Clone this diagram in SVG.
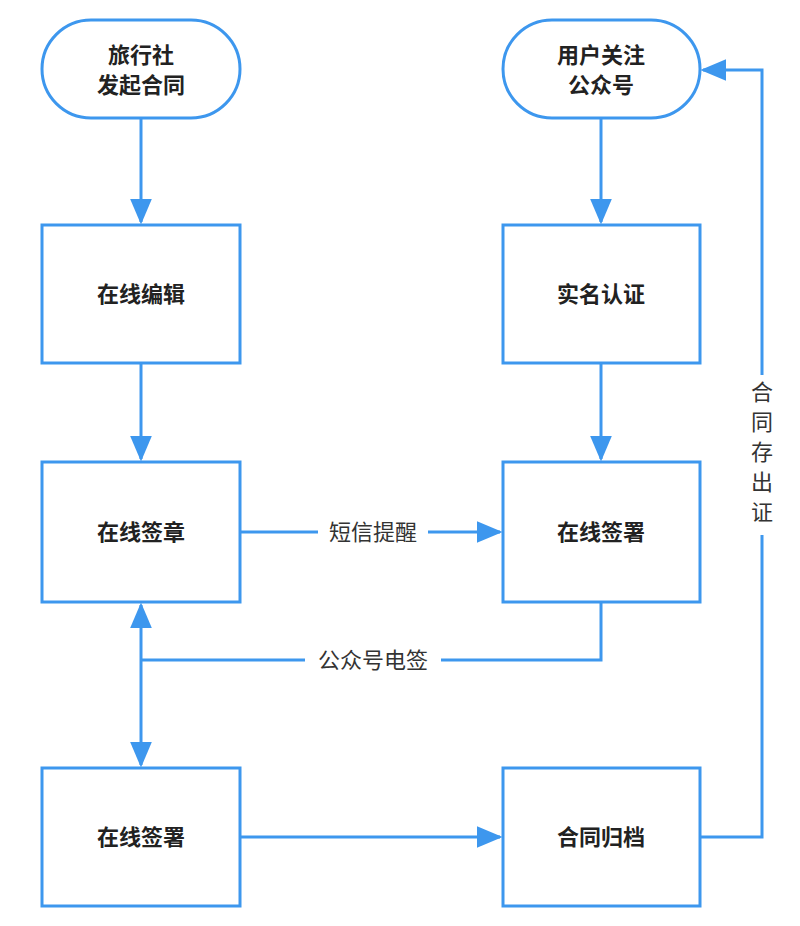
<svg xmlns="http://www.w3.org/2000/svg" width="800" height="926" viewBox="0 0 800 926">
<style>
.n{fill:#fff;stroke:#3d97ee;stroke-width:3}
.t{font-family:"Noto Sans CJK SC",sans-serif;font-weight:bold;font-size:22px;fill:#222;text-anchor:middle}
.l{font-family:"Noto Sans CJK SC",sans-serif;font-size:22px;fill:#333;text-anchor:middle}
.c{fill:none;stroke:#3d97ee;stroke-width:3}
</style>
<defs><marker id="a" viewBox="0 0 10 10" refX="9" refY="5" markerWidth="8" markerHeight="8" markerUnits="userSpaceOnUse" orient="auto-start-reverse"><path d="M0,0L10,5L0,10z" fill="#3d97ee"/></marker>
<marker id="b" viewBox="0 0 10 10" refX="9" refY="5" markerWidth="26" markerHeight="22" markerUnits="userSpaceOnUse" orient="auto-start-reverse" preserveAspectRatio="none"><path d="M0,0L10,5L0,10z" fill="#3d97ee"/></marker></defs>
<rect width="800" height="926" fill="#fff"/>
<g id="connectors">
<path class="c" d="M141,118V222" marker-end="url(#b)"/>
<path class="c" d="M141,363V459" marker-end="url(#b)"/>
<path class="c" d="M601,118V222" marker-end="url(#b)"/>
<path class="c" d="M601,363V459" marker-end="url(#b)"/>
<path class="c" d="M240,532H500" marker-end="url(#b)"/>
<path class="c" d="M601,602V660H141"/>
<path class="c" d="M141,660V605" marker-end="url(#b)"/>
<path class="c" d="M141,660V765" marker-end="url(#b)"/>
<path class="c" d="M240,837H500" marker-end="url(#b)"/>
<path class="c" d="M700,837H762V70H703" marker-end="url(#b)"/>
<rect x="318" y="516" width="110" height="32" fill="#fff"/>
<text class="l" x="373" y="540">短信提醒</text>
<rect x="305" y="644" width="136" height="32" fill="#fff"/>
<text class="l" x="373" y="668">公众号电签</text>
<rect x="748" y="375" width="28" height="160" fill="#fff"/>
<text class="l" x="762" y="400">合</text><text class="l" x="762" y="430">同</text><text class="l" x="762" y="460">存</text><text class="l" x="762" y="490">出</text><text class="l" x="762" y="520">证</text>
</g>
<g id="n1"><rect class="n" x="42" y="20" width="198" height="98" rx="49"/><text class="t" x="141" y="63">旅行社</text><text class="t" x="141" y="93">发起合同</text></g>
<g id="n2"><rect class="n" x="42" y="225" width="198" height="138"/><text class="t" x="141" y="302">在线编辑</text></g>
<g id="n3"><rect class="n" x="42" y="462" width="198" height="140"/><text class="t" x="141" y="540">在线签章</text></g>
<g id="n4"><rect class="n" x="42" y="768" width="198" height="138"/><text class="t" x="141" y="845">在线签署</text></g>
<g id="n5"><rect class="n" x="503" y="20" width="197" height="98" rx="49"/><text class="t" x="601" y="63">用户关注</text><text class="t" x="601" y="93">公众号</text></g>
<g id="n6"><rect class="n" x="503" y="225" width="197" height="138"/><text class="t" x="601" y="302">实名认证</text></g>
<g id="n7"><rect class="n" x="503" y="462" width="197" height="140"/><text class="t" x="601" y="540">在线签署</text></g>
<g id="n8"><rect class="n" x="503" y="768" width="197" height="138"/><text class="t" x="601" y="845">合同归档</text></g>
</svg>
